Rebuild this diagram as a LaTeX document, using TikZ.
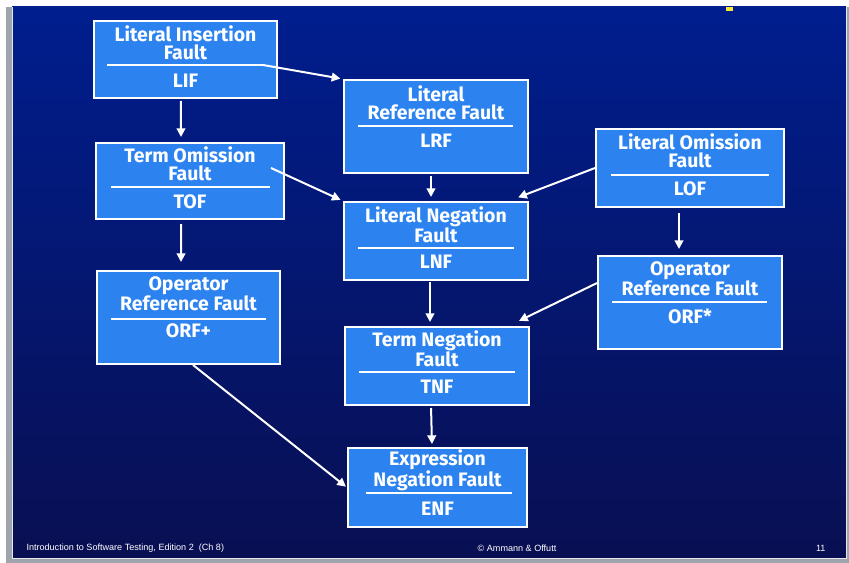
\documentclass[tikz,border=0pt]{standalone}
\usepackage{fontspec}
\setmainfont[Ligatures=NoCommon]{Fira Sans}
\newfontfamily\footfont{Liberation Sans}
\usetikzlibrary{arrows.meta,fit,positioning}

\definecolor{slidetop}{RGB}{0,30,142}
\definecolor{slidebottom}{RGB}{9,15,82}
\definecolor{boxblue}{RGB}{44,131,240}
\definecolor{sidegrey}{RGB}{160,164,172}
\definecolor{markyellow}{RGB}{255,232,60}

\tikzset{
	faultbox/.style={draw=white, line width=1.5pt, fill=boxblue, inner sep=0pt},
	boxtext/.style={text=white, font=\fontsize{14.6}{13.3}\selectfont\bfseries, align=center, inner sep=0pt},
	sepline/.style={draw=white, line width=1.5pt},
	flow/.style={draw=white, line width=1.5pt, -{Triangle[length=6.5pt,width=6.5pt]}},
	foottext/.style={text=white, font=\footfont\fontsize{6.8}{8}\selectfont, inner sep=0pt}}
\tikzset{every picture/.style={line width=0.75pt}}

\begin{document}
\begin{tikzpicture}[x=0.75pt,y=0.75pt,yscale=-1,xscale=1]
	\useasboundingbox (0,0) rectangle (849,563);

	%Shape: Rectangle [id:slide]
	\fill[white] (0,0) rectangle (849,563);
	\fill[sidegrey] (6,7) rectangle (849,563);
	\shade[top color=slidetop, bottom color=slidebottom] (12,7) rectangle (846,558);
	\draw[white!75!sidegrey] (12,7) -- (12,558) -- (846,558) -- (846,7);
	\fill[markyellow] (726,7) rectangle (733,11);

	%Shape: Rectangle [id:lif]
	\node[faultbox, fit={(94,21) (277,98)}] (lif) {};
	%Shape: Rectangle [id:lrf]
	\node[faultbox, fit={(344,80) (528,173)}] (lrf) {};
	%Shape: Rectangle [id:tof]
	\node[faultbox, fit={(96,143) (284,219)}] (tof) {};
	%Shape: Rectangle [id:lof]
	\node[faultbox, fit={(596,129) (784,207)}] (lof) {};
	%Shape: Rectangle [id:lnf]
	\node[faultbox, fit={(344,202) (528,280)}] (lnf) {};
	%Shape: Rectangle [id:orfplus]
	\node[faultbox, fit={(97,271) (280,364)}] (orfplus) {};
	%Shape: Rectangle [id:orfstar]
	\node[faultbox, fit={(598,256) (782,349)}] (orfstar) {};
	%Shape: Rectangle [id:tnf]
	\node[faultbox, fit={(345,327) (529,405)}] (tnf) {};
	%Shape: Rectangle [id:enf]
	\node[faultbox, fit={(348,448) (527,527)}] (enf) {};

	%Straight Lines [id:separators]
	\draw[sepline] (107,65) -- (263,65) coordinate (lif-sepend);
	\draw[sepline] (358,126) -- (513,126);
	\draw[sepline] (111,187) -- (270,187);
	\draw[sepline] (611,175) -- (769,175);
	\draw[sepline] (358,248) -- (514,248);
	\draw[sepline] (111,319) -- (266,319);
	\draw[sepline] (612,302) -- (767,302);
	\draw[sepline] (359,372) -- (515,372);
	\draw[sepline] (366,493) -- (512,493);

	% Text Node
	\node[boxtext] (lif-name) at (185.5,42.5) {Literal Insertion\\Fault};
	% Text Node
	\node[boxtext] (lif-code) at (185.5,81) {LIF};
	% Text Node
	\node[boxtext] (lrf-name) at (436,103) {Literal\\Reference Fault};
	% Text Node
	\node[boxtext] (lrf-code) at (436,141) {LRF};
	% Text Node
	\node[boxtext] (tof-name) at (190,163.5) {Term Omission\\Fault};
	% Text Node
	\node[boxtext] (tof-code) at (190,202) {TOF};
	% Text Node
	\node[boxtext] (lof-name) at (690,151) {Literal Omission\\Fault};
	% Text Node
	\node[boxtext] (lof-code) at (690,189) {LOF};
	% Text Node
	\node[boxtext] (lnf-name) at (436,225) {Literal Negation\\Fault};
	% Text Node
	\node[boxtext] (lnf-code) at (436,262) {LNF};
	% Text Node
	\node[boxtext] (orfplus-name) at (188.5,293.5) {Operator\\Reference Fault};
	% Text Node
	\node[boxtext] (orfplus-code) at (188.5,331) {ORF+};
	% Text Node
	\node[boxtext] (orfstar-name) at (690,278.5) {Operator\\Reference Fault};
	% Text Node
	\node[boxtext] (orfstar-code) at (690,316) {ORF*};
	% Text Node
	\node[boxtext] (tnf-name) at (437,349) {Term Negation\\Fault};
	% Text Node
	\node[boxtext] (tnf-code) at (437,387) {TNF};
	% Text Node
	\node[boxtext] (enf-name) at (437.5,470) {Expression\\Negation Fault};
	% Text Node
	\node[boxtext] (enf-code) at (437.5,509) {ENF};

	%Straight Lines [id:arrows]
	\draw[flow, shorten >=2pt] (lif-sepend) -- (lrf.north west);
	\draw[flow, shorten <=1.5pt, shorten >=3.75pt] ([xshift=-3.4pt]lif.south) -- ([xshift=-6.75pt]tof.north);
	\draw[flow, shorten >=2pt] ([xshift=-10.5pt,yshift=-9.75pt]tof.east) -- (lnf.north west);
	\draw[flow, shorten <=1.5pt, shorten >=3pt] ([xshift=-3.75pt]lrf.south) -- ([xshift=-3.75pt]lnf.north);
	\draw[flow, shorten >=2pt] (lof.west) -- ([xshift=-10pt,yshift=-2pt]lnf.north east);
	\draw[flow, shorten <=3.75pt, shorten >=4.5pt] ([xshift=-8.25pt]lof.south) -- ([xshift=-8.25pt]orfstar.north);
	\draw[flow, shorten <=3pt, shorten >=6pt] ([xshift=-6.75pt]tof.south) -- ([xshift=-5.6pt]orfplus.north);
	\draw[flow, shorten <=1pt, shorten >=3pt] ([xshift=-4.5pt]lnf.south) -- ([xshift=-5.25pt]tnf.north);
	\draw[flow, shorten >=2pt] ([yshift=-14.6pt]orfstar.west) -- ([xshift=-10pt,yshift=-3pt]tnf.north east);
	\draw[flow, shorten <=1.5pt, shorten >=2.25pt] ([xshift=-4.5pt]tnf.south) -- ([xshift=-4.1pt]enf.north);
	\draw[flow, shorten >=1pt] ([xshift=3.4pt]orfplus.south) -- (enf.west);

	% Text Node
	\node[foottext, anchor=west] (foot-title) at (26,548) {Introduction to Software Testing, Edition 2~~(Ch 8)};
	% Text Node
	\node[foottext] (foot-copy) at (517,548) {© Ammann \& Offutt};
	% Text Node
	\node[foottext, anchor=east] (foot-page) at (826,548) {11};

\end{tikzpicture}
\end{document}
